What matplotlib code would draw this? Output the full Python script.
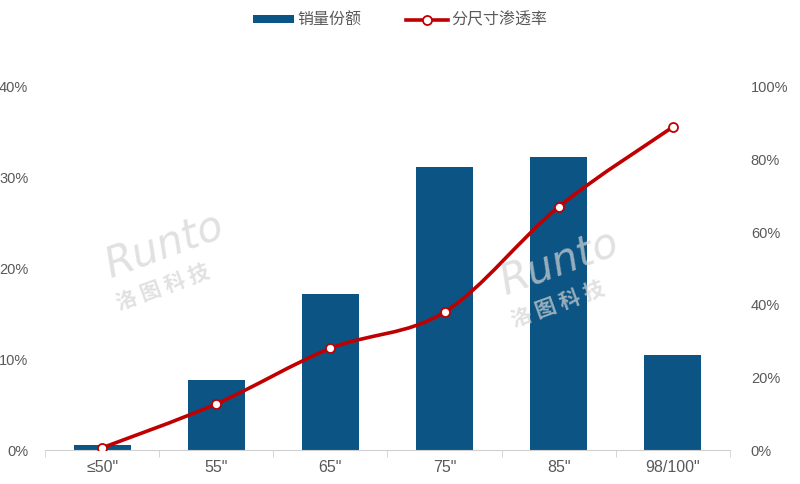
import matplotlib
matplotlib.use('Agg')
import matplotlib.pyplot as plt
from matplotlib.path import Path
from matplotlib.patches import PathPatch
from matplotlib.lines import Line2D
from matplotlib.patches import Patch
import numpy as np

plt.rcParams['font.family'] = ['Liberation Sans', 'Noto Sans CJK SC', 'DejaVu Sans']

# data
categories = ['≤50"', '55"', '65"', '75"', '85"', '98/100"']
share = [0.55, 7.7, 17.2, 31.2, 32.3, 10.5]          # 销量份额, left axis (%)
penetration = [0.6, 12.7, 28.0, 38.0, 67.0, 89.0]    # 分尺寸渗透率, right axis (%)

bar_color = '#0B5484'
line_color = '#C00000'
text_color = '#595959'

fig = plt.figure(figsize=(8, 4.84), dpi=100)
ax = fig.add_axes([45 / 800, 1 - 450 / 484, 685 / 800, 363 / 484])
ax2 = ax.twinx()

x = np.arange(len(categories))
ax.bar(x, share, width=0.5, color=bar_color, zorder=2)
ax.set_xlim(-0.5, len(categories) - 0.5)
ax.set_ylim(0, 40)
ax2.set_ylim(0, 100)

ax.set_yticks([0, 10, 20, 30, 40])
ax.set_yticklabels([f'{v}%' for v in [0, 10, 20, 30, 40]])
ax2.set_yticks([0, 20, 40, 60, 80, 100])
ax2.set_yticklabels([f'{v}%' for v in [0, 20, 40, 60, 80, 100]])
ax.set_xticks(x)
ax.set_xticklabels(categories)
ax.set_xticks(np.arange(len(categories) + 1) - 0.5, minor=True)

for a in (ax, ax2):
    for s in ['top', 'left', 'right']:
        a.spines[s].set_visible(False)
    a.spines['bottom'].set_color('#D0D0D0')
ax2.spines['bottom'].set_visible(False)
ax.tick_params(axis='y', length=0, labelsize=10.5, labelcolor=text_color, pad=12)
ax2.tick_params(axis='y', length=0, labelsize=10.5, labelcolor=text_color, pad=15)
ax.tick_params(axis='x', which='major', length=0, labelsize=11.5, labelcolor=text_color, pad=7)
ax.tick_params(axis='x', which='minor', length=5, color='#D0D0D0')

# smoothed line (excel-like), control points computed in display space
fig.canvas.draw()
pts = ax2.transData.transform(np.column_stack([x, penetration]))
verts = [pts[0]]
codes = [Path.MOVETO]
n = len(pts)
for i in range(n - 1):
    p0 = pts[max(i - 1, 0)]
    p1 = pts[i]
    p2 = pts[i + 1]
    p3 = pts[min(i + 2, n - 1)]
    c1 = p1 + (p2 - p0) / 6
    c2 = p2 - (p3 - p1) / 6
    verts += [c1, c2, p2]
    codes += [Path.CURVE4] * 3
verts = ax2.transData.inverted().transform(np.array(verts))
ax2.add_patch(PathPatch(Path(verts, codes), fill=False, edgecolor=line_color,
                        lw=2.6, zorder=3, capstyle='round'))
ax2.plot(x, penetration, linestyle='none', marker='o', ms=6.5,
         mfc='white', mec=line_color, mew=1.3, zorder=4)

# watermark
for (wx, wy) in [(165, 245), (560, 262)]:
    fig.text(wx / 800, 1 - wy / 484, 'Runto', fontsize=30, color='#D4D4D4',
             alpha=0.7, rotation=20, ha='center', va='center',
             style='italic', family=['DejaVu Sans'], fontweight='light', zorder=5)
    fig.text((wx - 2) / 800, 1 - (wy + 42) / 484, '洛 图 科 技', fontsize=15,
             color='#D4D4D4', alpha=0.7, rotation=20, ha='center', va='center',
             family=['Noto Sans CJK SC'], fontweight='bold', zorder=5)

# legend
handles = [Patch(facecolor=bar_color, edgecolor='none'),
           Line2D([], [], color=line_color, lw=2.6, marker='o', ms=6.5,
                  mfc='white', mec=line_color, mew=1.3)]
leg = fig.legend(handles, ['销量份额', '分尺寸渗透率'], loc='center',
                 bbox_to_anchor=(0.5, 1 - 20 / 484), ncol=2, frameon=False,
                 handlelength=2.6, handleheight=0.35,
                 columnspacing=2.8, handletextpad=0.2,
                 prop={'family': ['Noto Sans CJK SC'], 'size': 11.5})
for t in leg.get_texts():
    t.set_color(text_color)

fig.savefig('out.png', dpi=100)
